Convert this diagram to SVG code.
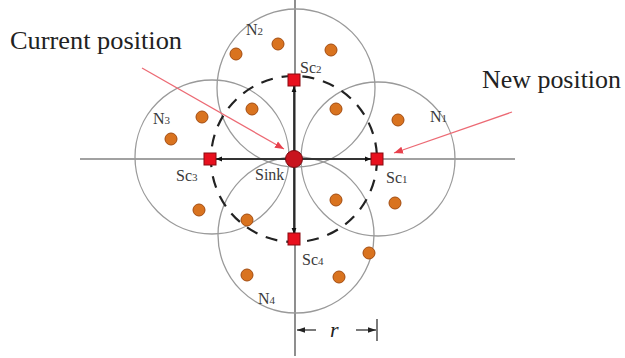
<svg xmlns="http://www.w3.org/2000/svg" width="625" height="358" viewBox="0 0 625 358">
<style>
.range{fill:none;stroke:#9a9a9a;stroke-width:1.3}
.axis{stroke:#444;stroke-width:1.2}
.dot{fill:#d9731f;stroke:#a34c10;stroke-width:1}
.sc{fill:#e8101e;stroke:#8a0a10;stroke-width:1}
.lbl{font-family:"Liberation Serif","Times New Roman",serif;font-size:16px;fill:#3a3a3a}
.sub{font-size:11px}
.big{font-family:"Liberation Serif","Times New Roman",serif;font-size:26px;fill:#222}
.mv{stroke:#111;stroke-width:1.6;marker-end:url(#ah)}
.red{stroke:#ec6a74;stroke-width:1.3;marker-end:url(#rh)}
</style>
<defs>
<marker id="ah" viewBox="0 0 10 10" refX="10" refY="5" markerWidth="6" markerHeight="6" orient="auto" markerUnits="userSpaceOnUse"><path d="M0,1 L10,5 L0,9 z" fill="#111"/></marker>
<marker id="rh" viewBox="0 0 10 10" refX="10" refY="5" markerWidth="9" markerHeight="9" orient="auto" markerUnits="userSpaceOnUse"><path d="M0,1 L10,5 L0,9 z" fill="#e8404c"/></marker>
<marker id="dh" viewBox="0 0 10 10" refX="10" refY="5" markerWidth="8" markerHeight="8" orient="auto" markerUnits="userSpaceOnUse"><path d="M0,1.5 L10,5 L0,8.5 z" fill="#222"/></marker>
</defs>
<rect width="625" height="358" fill="#fff"/>
<g id="axes">
<line class="axis" x1="80" y1="159" x2="515" y2="159"/>
<line class="axis" x1="295" y1="0" x2="295" y2="356"/>
</g>
<g id="ranges">
<circle id="N1" class="range" cx="378" cy="159" r="77"/>
<circle id="N2" class="range" cx="296" cy="88" r="79"/>
<circle id="N3" class="range" cx="212" cy="157" r="77"/>
<circle id="N4" class="range" cx="296" cy="235" r="78"/>
</g>
<circle id="path" cx="294" cy="159" r="83" fill="none" stroke="#222" stroke-width="2.2" stroke-dasharray="12 9"/>
<g id="nodes">
<circle class="dot" cx="236" cy="54" r="6"/>
<circle class="dot" cx="278" cy="44" r="6"/>
<circle class="dot" cx="331" cy="50" r="6"/>
<circle class="dot" cx="252" cy="109" r="6"/>
<circle class="dot" cx="336" cy="109" r="6"/>
<circle class="dot" cx="398" cy="120" r="6"/>
<circle class="dot" cx="202" cy="117" r="6"/>
<circle class="dot" cx="171" cy="139" r="6"/>
<circle class="dot" cx="199" cy="210" r="6"/>
<circle class="dot" cx="247" cy="220" r="6"/>
<circle class="dot" cx="336" cy="200" r="6"/>
<circle class="dot" cx="395" cy="203" r="6"/>
<circle class="dot" cx="369" cy="253" r="6"/>
<circle class="dot" cx="247" cy="275" r="6"/>
<circle class="dot" cx="339" cy="277" r="6"/>
</g>
<g id="connectors">
<line class="mv" x1="294" y1="159" x2="216" y2="159"/>
<line class="mv" x1="294" y1="159" x2="371" y2="159"/>
<line class="mv" x1="294" y1="159" x2="294" y2="86"/>
<line class="mv" x1="294" y1="159" x2="294" y2="234"/>
<line class="red" x1="142" y1="68" x2="284" y2="149"/>
<line class="red" x1="512" y1="112" x2="394" y2="153"/>
</g>
<g id="sc-nodes">
<rect id="Sc1" class="sc" x="371" y="153" width="12" height="12"/>
<rect id="Sc2" class="sc" x="288" y="74" width="12" height="12"/>
<rect id="Sc3" class="sc" x="204" y="153" width="12" height="12"/>
<rect id="Sc4" class="sc" x="288" y="233" width="12" height="12"/>
</g>
<g id="sink"><circle cx="294" cy="159" r="8.5" fill="#c8141e" stroke="#7a0a10" stroke-width="1"/></g>
<g id="labels">
<text class="lbl" x="246" y="35">N<tspan class="sub">2</tspan></text>
<text class="lbl" x="430" y="122">N<tspan class="sub">1</tspan></text>
<text class="lbl" x="153" y="124">N<tspan class="sub">3</tspan></text>
<text class="lbl" x="258" y="304">N<tspan class="sub">4</tspan></text>
<text class="lbl" x="300" y="73">Sc<tspan class="sub">2</tspan></text>
<text class="lbl" x="386" y="183">Sc<tspan class="sub">1</tspan></text>
<text class="lbl" x="176" y="181">Sc<tspan class="sub">3</tspan></text>
<text class="lbl" x="302" y="265">Sc<tspan class="sub">4</tspan></text>
<text class="lbl" x="255" y="180" font-size="15">Sink</text>
<text class="big" x="10" y="49" textLength="172" lengthAdjust="spacingAndGlyphs">Current position</text>
<text class="big" x="482" y="88" textLength="139" lengthAdjust="spacingAndGlyphs">New position</text>
</g>
<g id="dimension">
<line x1="316" y1="330" x2="297" y2="330" stroke="#222" stroke-width="1.2" marker-end="url(#dh)"/>
<line x1="356" y1="330" x2="376" y2="330" stroke="#222" stroke-width="1.2" marker-end="url(#dh)"/>
<line x1="377" y1="319" x2="377" y2="341" stroke="#222" stroke-width="1.2"/>
<text x="330" y="337" font-family="Liberation Serif,serif" font-style="italic" font-size="22" fill="#222">r</text>
</g>
</svg>
